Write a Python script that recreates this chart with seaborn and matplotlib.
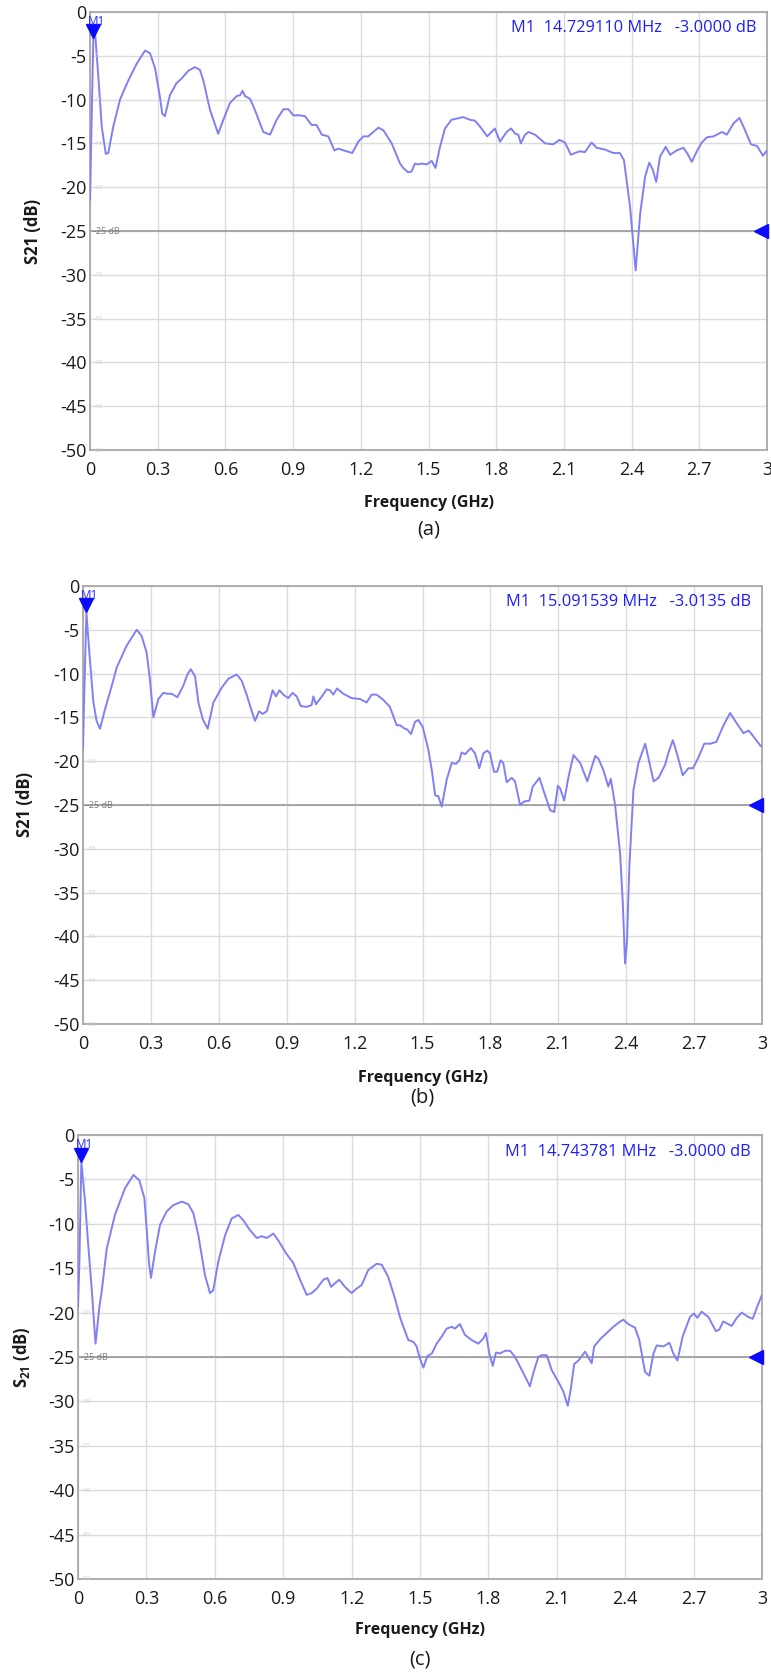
import numpy as np
import pandas as pd
import matplotlib
matplotlib.use("Agg")
import matplotlib.pyplot as plt
import matplotlib.transforms as mtransforms
import seaborn as sns

# ---------------- data ----------------
freq_a = [0.000, 0.0147, 0.022, 0.037, 0.052, 0.070, 0.081, 0.103, 0.133, 0.170,
          0.207, 0.244, 0.266, 0.288, 0.310, 0.320, 0.332, 0.354, 0.384, 0.406,
          0.436, 0.465, 0.487, 0.502, 0.532, 0.568, 0.591, 0.620, 0.650, 0.665,
          0.676, 0.687, 0.709, 0.731, 0.768, 0.798, 0.827, 0.857,
          0.879, 0.901, 0.931,
          0.953, 0.982, 1.004, 1.027, 1.056, 1.083, 1.100, 1.137, 1.162, 1.189, 1.211, 1.233,
          1.278, 1.300, 1.337, 1.374, 1.388, 1.410, 1.425, 1.440, 1.455, 1.470, 1.492, 1.514,
          1.531, 1.551, 1.573, 1.602, 1.654, 1.683, 1.706, 1.735, 1.760, 1.794, 1.817, 1.846,
          1.866, 1.884, 1.898, 1.909, 1.928, 1.943, 1.972, 2.017, 2.053, 2.080, 2.105, 2.131,
          2.149, 2.171, 2.193, 2.223, 2.245, 2.282, 2.319, 2.348, 2.366, 2.393, 2.418, 2.438,
          2.460, 2.478, 2.494, 2.509, 2.526, 2.551, 2.571, 2.600, 2.630, 2.648, 2.667, 2.689,
          2.711, 2.734, 2.763, 2.800, 2.822, 2.852, 2.878, 2.896, 2.929, 2.956, 2.982, 3.000]
s21_a = [-21.5, -3.0, -2.2, -7.4, -13.1, -16.2, -16.1, -13.1, -10.0, -7.8,
         -5.9, -4.4, -4.7, -6.4, -9.7, -11.6, -11.9, -9.5, -8.1, -7.6,
         -6.7, -6.3, -6.6, -7.8, -11.2, -13.9, -12.3, -10.4, -9.6, -9.5,
         -9.0, -9.6, -9.9, -11.2, -13.7, -14.0, -12.3, -11.1,
         -11.1, -11.8, -11.8,
         -11.9, -12.9, -12.9, -14.0, -14.2, -15.8, -15.6, -15.9, -16.1, -14.8, -14.2, -14.2,
         -13.2, -13.5, -15.0, -17.3, -17.8, -18.3, -18.2, -17.3, -17.4, -17.3, -17.4, -17.0,
         -17.8, -15.4, -13.3, -12.3, -12.0, -12.3, -12.4, -13.3, -14.2, -13.3, -14.8, -13.7,
         -13.3, -13.9, -14.0, -15.0, -14.0, -13.7, -14.0, -15.0, -15.1, -14.6, -14.9, -16.3,
         -16.1, -15.9, -16.0, -14.9, -15.5, -15.7, -16.1, -16.1, -16.9, -22.2, -29.5, -23.0,
         -18.8, -17.2, -18.0, -19.4, -16.5, -15.4, -16.3, -15.8, -15.5, -16.2, -17.1, -15.9,
         -14.9, -14.3, -14.2, -13.7, -14.0, -12.7, -12.1, -13.1, -15.1, -15.3, -16.4, -15.8]

freq_b = [0.000, 0.004, 0.0151, 0.028, 0.046, 0.060, 0.075, 0.097, 0.127, 0.149,
          0.193, 0.237, 0.259, 0.281, 0.296, 0.311, 0.333, 0.355, 0.373, 0.392,
          0.417, 0.443, 0.461, 0.476, 0.495, 0.510, 0.529, 0.551, 0.576, 0.613,
          0.642, 0.679, 0.701, 0.723, 0.746, 0.760, 0.778, 0.794, 0.812, 0.838,
          0.853, 0.868,
          0.885, 0.907, 0.926, 0.944, 0.962, 0.988, 1.010,
          1.018, 1.029, 1.050, 1.077, 1.091, 1.106, 1.122, 1.150, 1.187, 1.224, 1.253, 1.275,
          1.297, 1.327, 1.356, 1.386, 1.401, 1.416, 1.433, 1.449, 1.467, 1.482, 1.501, 1.526,
          1.541, 1.556, 1.570, 1.585, 1.607, 1.629, 1.648, 1.663, 1.673, 1.688, 1.714, 1.732,
          1.751, 1.769, 1.786, 1.798, 1.816, 1.830, 1.845, 1.857, 1.872, 1.894, 1.909, 1.931,
          1.949, 1.972, 1.987, 2.017, 2.034, 2.064, 2.082, 2.098, 2.108, 2.126, 2.145, 2.167,
          2.197, 2.228, 2.263, 2.277, 2.299, 2.321, 2.332, 2.351, 2.373, 2.385, 2.395, 2.403,
          2.414, 2.432, 2.454, 2.484, 2.503, 2.521, 2.543, 2.572, 2.587, 2.606, 2.624, 2.650,
          2.675, 2.695, 2.717, 2.745, 2.772, 2.798, 2.830, 2.859, 2.889, 2.918, 2.941, 2.960,
          2.995]
s21_b = [-18.5, -13.8, -3.0, -7.6, -13.3, -15.4, -16.3, -14.1, -11.4, -9.3,
         -6.8, -5.0, -5.7, -7.6, -10.7, -15.0, -12.9, -12.2, -12.3, -12.3,
         -12.7, -11.4, -10.1, -9.5, -10.3, -13.3, -15.2, -16.3, -13.3, -11.6,
         -10.6, -10.1, -10.8, -12.4, -14.3, -15.4, -14.3, -14.6, -14.3, -11.9,
         -12.6, -11.9,
         -12.4, -12.8, -12.2, -12.6, -13.7, -13.8, -13.6,
         -12.6, -13.5, -12.8, -11.8, -11.9, -12.4, -11.7, -12.3, -12.8, -12.9, -13.3, -12.4,
         -12.4, -13.0, -13.8, -15.9, -15.9, -16.2, -16.4, -16.9, -15.5, -15.3, -16.1, -18.7,
         -21.0, -23.9, -24.0, -25.2, -22.1, -20.2, -20.3, -19.9, -19.0, -19.2, -18.5, -19.1,
         -20.8, -19.1, -18.8, -19.1, -21.2, -21.2, -19.9, -20.2, -22.4, -21.9, -22.3, -25.0,
         -24.6, -24.5, -22.9, -21.9, -23.3, -25.6, -25.8, -22.8, -23.1, -24.5, -21.8, -19.3,
         -20.2, -22.3, -19.4, -19.7, -21.0, -22.9, -22.0, -25.0, -30.5, -36.2, -43.1, -40.8,
         -32.0, -23.3, -20.2, -18.0, -20.2, -22.3, -21.9, -20.4, -19.0, -17.6, -19.1, -21.6,
         -20.8, -20.8, -19.7, -18.0, -18.0, -17.8, -15.9, -14.5, -15.7, -16.8, -16.5, -17.1,
         -18.3]

freq_c = [0.000, 0.006, 0.0147, 0.031, 0.045, 0.060, 0.077, 0.094, 0.104, 0.126,
          0.162, 0.206, 0.243, 0.269, 0.291, 0.301, 0.311, 0.320, 0.338, 0.360,
          0.389, 0.418, 0.455, 0.484, 0.506, 0.528, 0.557, 0.579, 0.593, 0.615,
          0.645, 0.674, 0.703, 0.725, 0.754, 0.784, 0.806, 0.828, 0.857,
          0.879, 0.912, 0.944, 0.974, 1.003, 1.025, 1.047,
          1.076, 1.094, 1.110, 1.127, 1.146, 1.171, 1.200, 1.222, 1.244, 1.273, 1.310, 1.332,
          1.361, 1.390, 1.412, 1.427, 1.449, 1.471, 1.485, 1.500, 1.515, 1.532, 1.552, 1.573,
          1.595, 1.617, 1.639, 1.653, 1.675, 1.697, 1.727, 1.756, 1.778, 1.789, 1.804, 1.819,
          1.833, 1.851, 1.873, 1.895, 1.917, 1.939, 1.961, 1.982, 1.997, 2.019, 2.034, 2.056,
          2.078, 2.107, 2.129, 2.148, 2.161, 2.176, 2.195, 2.224, 2.253, 2.264, 2.290, 2.319,
          2.348, 2.378, 2.392, 2.414, 2.443, 2.462, 2.487, 2.506, 2.524, 2.538, 2.568, 2.594,
          2.611, 2.629, 2.652, 2.684, 2.702, 2.716, 2.735, 2.765, 2.798, 2.813, 2.830, 2.852,
          2.867, 2.889, 2.911, 2.940, 2.959, 2.984, 3.000]
s21_c = [-19.3, -14.5, -3.0, -7.5, -12.4, -17.3, -23.5, -19.3, -17.6, -12.8,
         -9.0, -6.0, -4.5, -5.1, -7.1, -10.5, -14.3, -16.1, -13.1, -10.1,
         -8.6, -7.9, -7.5, -7.8, -8.8, -11.3, -15.8, -17.8, -17.5, -14.3,
         -11.3, -9.4, -9.0, -9.6, -10.7, -11.6, -11.4, -11.6, -11.1,
         -11.9, -13.3, -14.4, -16.3, -18.0, -17.8, -17.3,
         -16.3, -16.1, -17.1, -16.7, -16.3, -17.1, -17.8, -17.3, -16.9, -15.2, -14.5, -14.6,
         -16.0, -18.4, -20.5, -21.6, -23.1, -23.3, -23.8, -25.2, -26.2, -24.9, -24.6, -23.5,
         -22.7, -21.8, -21.6, -21.8, -21.3, -22.5, -23.1, -23.5, -22.9, -22.3, -24.6, -26.0,
         -24.5, -24.6, -24.3, -24.3, -25.0, -26.1, -27.2, -28.3, -26.8, -25.0, -24.8, -24.8,
         -26.5, -27.8, -28.9, -30.5, -28.7, -25.8, -25.4, -24.4, -25.7, -23.8, -23.0, -22.3,
         -21.6, -21.0, -20.8, -21.3, -21.7, -23.1, -26.7, -27.1, -24.6, -23.7, -23.8, -23.4,
         -24.6, -25.4, -22.7, -20.5, -20.1, -20.6, -19.9, -20.5, -22.1, -21.9, -21.0, -21.3,
         -21.5, -20.6, -20.0, -20.5, -20.7, -19.0, -18.0]

marker_freq = [0.014729110, 0.015091539, 0.014743781]   # GHz
marker_db = [-3.0000, -3.0135, -3.0000]
marker_text = ["M1  14.729110 MHz   -3.0000 dB",
               "M1  15.091539 MHz   -3.0135 dB",
               "M1  14.743781 MHz   -3.0000 dB"]
panel_tags = ["(a)", "(b)", "(c)"]
y_titles = ["S21 (dB)", "S21 (dB)", r"S$_{\mathbf{21}}$ (dB)"]
x_title = "Frequency (GHz)"
x_ticks = [0, 0.3, 0.6, 0.9, 1.2, 1.5, 1.8, 2.1, 2.4, 2.7, 3.0]
x_ticklabels = ["0", "0.3", "0.6", "0.9", "1.2", "1.5", "1.8", "2.1", "2.4", "2.7", "3"]
y_ticks = [0, -5, -10, -15, -20, -25, -30, -35, -40, -45, -50]
y_ticklabels = [str(v) for v in y_ticks]
ref_level = -25

series = [(freq_a, s21_a), (freq_b, s21_b), (freq_c, s21_c)]

# ---------------- style ----------------
sns.set_theme(style="white")
plt.rcParams["font.family"] = ["Open Sans", "DejaVu Sans"]
plt.rcParams["mathtext.fontset"] = "custom"
plt.rcParams["mathtext.rm"] = "Open Sans"
plt.rcParams["mathtext.bf"] = "Open Sans:bold"

W, H = 771, 1672
fig = plt.figure(figsize=(W / 100, H / 100), dpi=100)
fig.patch.set_facecolor("white")

# pixel boxes: (left, top, right, bottom)
boxes = [(90, 12, 767, 450), (83, 586, 762, 1024), (78, 1135, 762, 1579)]
ylabel_x = [33, 25, 22]
xlabel_y = [503, 1078, 1630]
tag_y = [530, 1098, 1660]

LINE = "#8080f4"
BLUE = "#1c1cff"

for i, (f, s) in enumerate(series):
    l, t, r, b = boxes[i]
    ax = fig.add_axes([l / W, 1 - b / H, (r - l) / W, (b - t) / H])
    df = pd.DataFrame({"freq": f, "s21": s})
    sns.lineplot(data=df, x="freq", y="s21", ax=ax, color=LINE, linewidth=1.4,
                 estimator=None, sort=False, zorder=4)
    ax.set_xlim(0, 3)
    ax.set_ylim(-50, 0)
    ax.set_xticks(x_ticks)
    ax.set_xticklabels(x_ticklabels)
    ax.set_yticks(y_ticks)
    ax.set_yticklabels(y_ticklabels)
    ax.set_xlabel("")
    ax.set_ylabel("")
    ax.grid(True, color="#dcdcdc", linewidth=1.0)
    ax.set_axisbelow(True)
    for sp in ax.spines.values():
        sp.set_color("#a8a8a8")
        sp.set_linewidth(1.3)
    ax.tick_params(axis="both", length=0, labelsize=13, colors="#1a1a1a")
    ax.tick_params(axis="x", pad=8)
    ax.tick_params(axis="y", pad=2.5)

    # reference line and its pointer
    ax.axhline(ref_level, color="#a0a0a0", linewidth=1.3, zorder=2)
    trans = mtransforms.blended_transform_factory(ax.transAxes, ax.transData)
    ax.plot([0.991], [ref_level], marker="<", markersize=10, color="#0a0aff",
            transform=trans, clip_on=False, zorder=6)

    # faint in-plot grid labels
    for v in y_ticks[1:]:
        if v == ref_level:
            ax.text(0.004, v, f"{v} dB", transform=trans, fontsize=6.5, color="#7a7a7a",
                    ha="left", va="center", zorder=5)
        else:
            ax.text(0.005, v, str(v), transform=trans, fontsize=4.5, color="#cfcfcf",
                    ha="left", va="center", zorder=5)

    # marker M1
    up = mtransforms.ScaledTranslation(0, 5 / 72, fig.dpi_scale_trans)
    ax.plot([marker_freq[i]], [marker_db[i]], marker="v", markersize=10, color="#0a0aff",
            transform=ax.transData + up, clip_on=False, zorder=7)
    up2 = mtransforms.ScaledTranslation(2.0 / 72, 7.5 / 72, fig.dpi_scale_trans)
    ax.text(marker_freq[i], marker_db[i], "M1", transform=ax.transData + up2,
            fontsize=8.5, color="#2a2aff", ha="center", va="bottom", zorder=7)

    # marker readout
    ax.text(1 - 11 / (r - l), 1 - 16.5 / (b - t), marker_text[i], transform=ax.transAxes,
            fontsize=11.8, color=BLUE, ha="right", va="center", zorder=8)

    # labels
    cx = (l + r) / 2
    fig.text(ylabel_x[i] / W, 1 - ((t + b) / 2) / H, y_titles[i], rotation=90,
             fontsize=12, fontweight="bold", color="#1a1a1a", ha="center", va="center")
    fig.text(cx / W, 1 - xlabel_y[i] / H, x_title, fontsize=11.5, fontweight="bold",
             color="#1a1a1a", ha="center", va="center")
    fig.text(cx / W, 1 - tag_y[i] / H, panel_tags[i], fontsize=14.5,
             color="#1a1a1a", ha="center", va="center")

fig.savefig("out.png", dpi=100, facecolor="white")
